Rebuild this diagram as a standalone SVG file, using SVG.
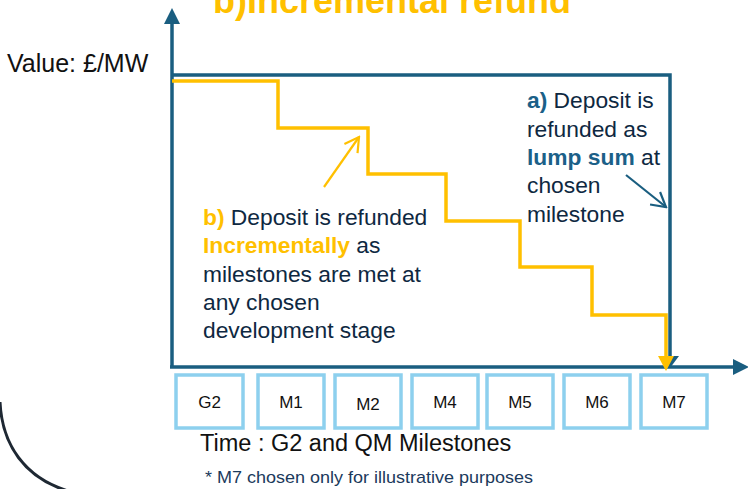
<svg xmlns="http://www.w3.org/2000/svg" width="748" height="489" viewBox="0 0 748 489">
<style>
.ax{fill:none;stroke:#1A5E80;stroke-width:3.5}
.yl{fill:none;stroke:#FFC000;stroke-width:3.5}
.box{fill:#FFFFFF;stroke:#8DD0EE;stroke-width:3.5}
.bl{font-family:"Liberation Sans",Arial,sans-serif;font-size:17px;fill:#111111;text-anchor:middle}
.body{font-family:"Liberation Sans",Arial,sans-serif;font-size:22.8px;fill:#0E2841}
.ybold{font-weight:bold;fill:#FFC000}
.bbold{font-weight:bold;fill:#1B6088}
</style>
<defs>
<marker id="ab" markerUnits="userSpaceOnUse" markerWidth="16" markerHeight="16" refX="0" refY="8" orient="auto" viewBox="0 0 16 16"><path d="M0,0 L16,8 L0,16 z" fill="#1A5E80"/></marker>
<marker id="ab2" markerUnits="userSpaceOnUse" markerWidth="12" markerHeight="18" refX="0" refY="9" orient="auto" viewBox="0 0 12 18"><path d="M0,0 L12,9 L0,18 z" fill="#1A5E80"/></marker>
<marker id="ay" markerUnits="userSpaceOnUse" markerWidth="15" markerHeight="16" refX="0" refY="8" orient="auto" viewBox="0 0 15 16"><path d="M0,0 L15,8 L0,16 z" fill="#FFC000"/></marker>
<marker id="oy" markerUnits="userSpaceOnUse" markerWidth="20" markerHeight="20" refX="18" refY="10" orient="auto" viewBox="0 0 20 20"><path d="M4,2 L18,10 L4,18" fill="none" stroke="#FFC000" stroke-width="2.2"/></marker>
<marker id="ob" markerUnits="userSpaceOnUse" markerWidth="20" markerHeight="20" refX="18" refY="10" orient="auto" viewBox="0 0 20 20"><path d="M4,2 L18,10 L4,18" fill="none" stroke="#1A5E80" stroke-width="2.2"/></marker>
</defs>
<rect width="748" height="489" fill="#FFFFFF"/>
<path d="M0,402 C2,445 25,478 68,491" fill="none" stroke="#1E2833" stroke-width="3"/>
<text x="213" y="13" font-family="Liberation Sans,Arial,sans-serif" font-size="36" font-weight="bold" fill="#FFC000" textLength="358" lengthAdjust="spacingAndGlyphs">b)Incremental refund</text>
<text x="7" y="72" font-family="Liberation Sans,Arial,sans-serif" font-size="25" fill="#111111">Value: £/MW</text>
<g id="connectors">
<path class="ax" d="M172,368 V24" marker-end="url(#ab)"/>
<path class="ax" d="M170,367 H733" marker-end="url(#ab)"/>
<path class="ax" d="M172,75 H670 V356" marker-end="url(#ab2)"/>
<path class="yl" d="M172,81 H278 V128 H368 V174 H446 V221 H520 V267 H592 V315 H666 V356" marker-end="url(#ay)"/>
<path d="M324,187 L359,137" fill="none" stroke="#FFC000" stroke-width="2.2" marker-end="url(#oy)"/>
<path d="M626,175 L666,207" fill="none" stroke="#1A5E80" stroke-width="2.2" marker-end="url(#ob)"/>
</g>
<g id="note-b">
<text class="body" x="203" y="225"><tspan class="ybold">b)</tspan> Deposit is refunded</text>
<text class="body" x="203" y="253"><tspan class="ybold">Incrementally</tspan> as</text>
<text class="body" x="203" y="282">milestones are met at</text>
<text class="body" x="203" y="310">any chosen</text>
<text class="body" x="203" y="338">development stage</text>
</g>
<g id="note-a">
<text class="body" x="527" y="108"><tspan class="bbold">a)</tspan> Deposit is</text>
<text class="body" x="527" y="137">refunded as</text>
<text class="body" x="527" y="165"><tspan class="bbold">lump sum</tspan> at</text>
<text class="body" x="527" y="193">chosen</text>
<text class="body" x="527" y="222">milestone</text>
</g>
<g id="G2"><rect class="box" x="176" y="375" width="67" height="53"/><text class="bl" x="209.5" y="408">G2</text></g>
<g id="M1"><rect class="box" x="258" y="375" width="66" height="53"/><text class="bl" x="291" y="408">M1</text></g>
<g id="M2"><rect class="box" x="335" y="375" width="66" height="53"/><text class="bl" x="368" y="410">M2</text></g>
<g id="M4"><rect class="box" x="412" y="375" width="66" height="53"/><text class="bl" x="445" y="408">M4</text></g>
<g id="M5"><rect class="box" x="487" y="375" width="66" height="53"/><text class="bl" x="520" y="408">M5</text></g>
<g id="M6"><rect class="box" x="564" y="375" width="66" height="53"/><text class="bl" x="597" y="408">M6</text></g>
<g id="M7"><rect class="box" x="641" y="375" width="66" height="53"/><text class="bl" x="674" y="408">M7</text></g>
<text x="200" y="451" font-family="Liberation Sans,Arial,sans-serif" font-size="23.5" fill="#111111">Time : G2 and QM Milestones</text>
<text x="205" y="483" font-family="Liberation Sans,Arial,sans-serif" font-size="17" fill="#1B3A5C" textLength="328" lengthAdjust="spacingAndGlyphs">* M7 chosen only for illustrative purposes</text>
</svg>
